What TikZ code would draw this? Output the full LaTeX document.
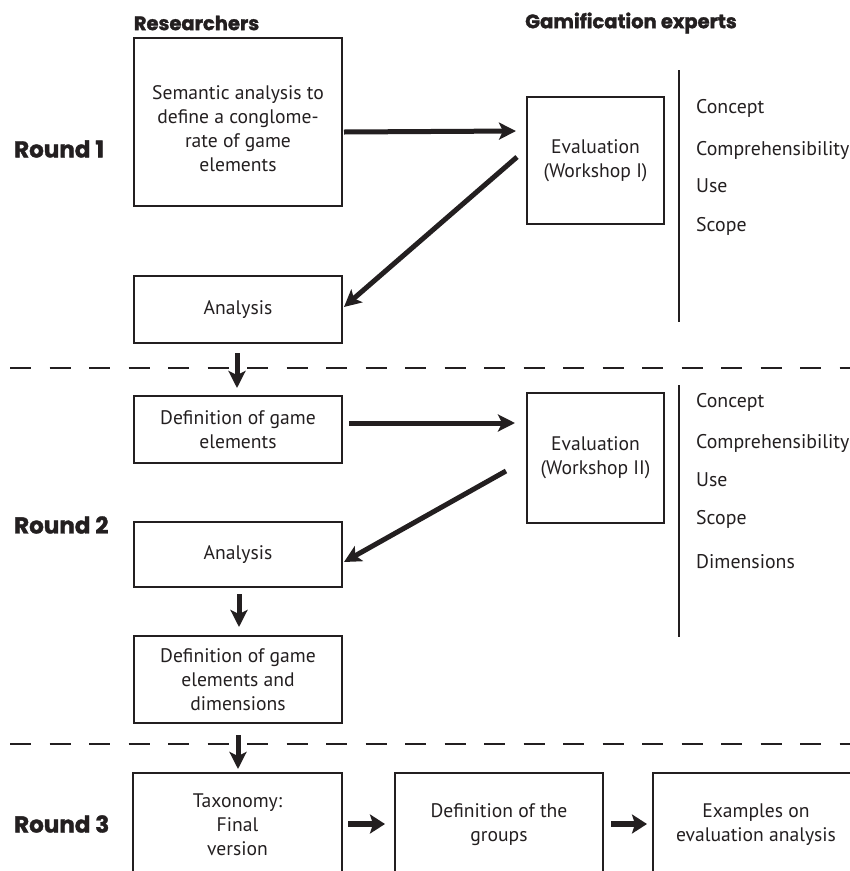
\documentclass[tikz,border=0pt]{standalone}
\usepackage{fontspec}
\setmainfont{PT Sans}
\newfontfamily\headfont{Poppins}[BoldFeatures={FakeBold=1.6}]
\usetikzlibrary{arrows.meta,calc}
\definecolor{ink}{RGB}{35,31,32}

\begin{document}
\begin{tikzpicture}[x=1pt,y=-1pt,
  box/.style={draw=ink,line width=2pt,align=center,text=ink,inner sep=0pt,
    font=\fontsize{19.6}{24}\selectfont},
  boxtext/.style={align=center,text=ink,inner sep=0pt,
    font=\fontsize{19.6}{24}\selectfont},
  flow/.style={draw=ink,line width=5pt,
    -{Stealth[length=17pt,width=17pt,inset=4pt]}},
  short/.style={draw=ink,line width=6pt,
    -{Stealth[length=15pt,width=19pt,inset=3pt]}},
  divider/.style={draw=ink,line width=2pt,dash pattern=on 21pt off 18.5pt},
  rule/.style={draw=ink,line width=2pt},
  crit/.style={anchor=west,text=ink,inner sep=0pt,font=\fontsize{19.8}{24}\selectfont},
  colhead/.style={text=ink,inner sep=0pt,font=\headfont\bfseries\fontsize{19.5}{24}\selectfont},
  roundlbl/.style={anchor=west,text=ink,inner sep=0pt,font=\headfont\bfseries\fontsize{23}{26}\selectfont}
]
\useasboundingbox (0,0) rectangle (850,871);
\clip (0,0) rectangle (850,871);

% column headings
\node[colhead] (hres) at (196.5,23) {Researchers};
\node[colhead] (hgam) at (631,23) {Gamification experts};

% round labels
\node[roundlbl] (r1) at (14,149) {Round 1};
\node[roundlbl] (r2) at (14,525) {Round 2};
\node[roundlbl] (r3) at (14,824) {Round 3};

% researcher column
\node[box,minimum width=208,minimum height=168] (sem) at (238,122) {};
\node[boxtext] (semtxt) at ([shift={(0,7)}]sem.center)
  {Semantic analysis to\\define a conglome-\\rate of game\\elements};
\node[box,minimum width=208,minimum height=67] (ana1) at (238,309.5) {Analysis};
\node[box,minimum width=208,minimum height=67] (def1) at (238,429.5)
  {Definition of game\\elements};
\node[box,minimum width=208,minimum height=65] (ana2) at (238,554.5) {Analysis};
\node[box,minimum width=208,minimum height=87] (def2) at (238,679.5)
  {Definition of game\\elements and\\dimensions};

% expert column
\node[box,minimum width=137,minimum height=127] (ev1) at (595.5,160.5)
  {Evaluation\\(Workshop I)};
\node[box,minimum width=137,minimum height=130] (ev2) at (595.5,458)
  {Evaluation\\(Workshop II)};

% final round
\node[box,minimum width=209,minimum height=104] (tax) at (237.5,825)
  {Taxonomy:\\Final\\version};
\node[box,minimum width=208,minimum height=104] (grp) at (499,825)
  {Definition of the\\groups};
\node[box,minimum width=206,minimum height=104] (exm) at (756,825)
  {Examples on\\evaluation analysis};

% evaluation criteria
\coordinate (v1a) at (679,70);
\coordinate (v1b) at (679,322);
\draw[rule] (v1a) -- (v1b);
\node[crit] (c1a) at (696,108) {Concept};
\node[crit] (c1b) at (696,150) {Comprehensibility};
\node[crit] (c1c) at (696,186) {Use};
\node[crit] (c1d) at (696,226) {Scope};

\coordinate (v2a) at (679,385);
\coordinate (v2b) at (679,637);
\draw[rule] (v2a) -- (v2b);
\node[crit] (c2a) at (696,402) {Concept};
\node[crit] (c2b) at (696,443) {Comprehensibility};
\node[crit] (c2c) at (696,480) {Use};
\node[crit] (c2d) at (696,519) {Scope};
\node[crit] (c2e) at (696,562) {Dimensions};

% round separators
\coordinate (d1a) at (10,368);
\coordinate (d1b) at (870,368);
\coordinate (d2a) at (10,744);
\coordinate (d2b) at (870,744);
\draw[divider] (d1a) -- (d1b);
\draw[divider] (d2a) -- (d2b);

% flow
\draw[flow] ([shift={(1,10)}]sem.east) -- ([shift={(-10,-29.5)}]ev1.west);
\draw[flow] ([shift={(-9,-3.5)}]ev1.west) -- ([shift={(1,-2.5)}]ana1.east);
\draw[flow] ([shift={(-1,9)}]ana1.south) -- ([shift={(-1,-7)}]def1.north);
\draw[flow] ([shift={(6,-6.5)}]def1.east) -- ([shift={(-11,-35)}]ev2.west);
\draw[flow] ([shift={(-20,13)}]ev2.west) -- ([shift={(1,7.5)}]ana2.east);
\draw[flow] ([shift={(1,6)}]ana2.south) -- ([shift={(1,-8)}]def2.north);
\draw[flow] ([shift={(0,11)}]def2.south) -- ([shift={(0.5,-3)}]tax.north);
\draw[short] ([shift={(5,-1)}]tax.east) -- ([shift={(-9,-1)}]grp.west);
\draw[short] ([shift={(7,-1)}]grp.east) -- ([shift={(-5,-1)}]exm.west);
\end{tikzpicture}
\end{document}
